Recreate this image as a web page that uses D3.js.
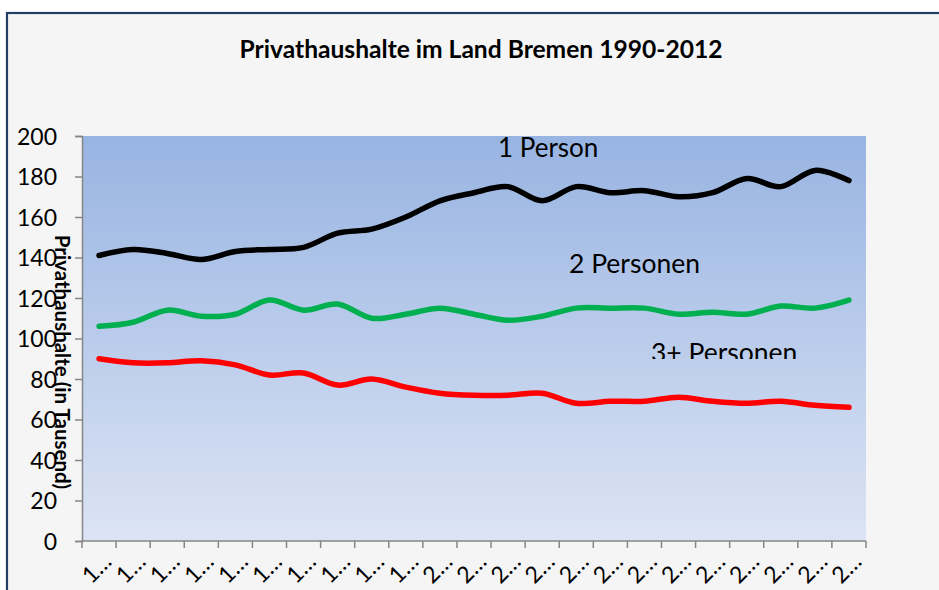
<!DOCTYPE html>
<html>
<head>
    <meta charset="utf-8">
    <script type="text/javascript" src="https://d3js.org/d3.v7.min.js"></script>
    <style>
        body { margin: 0; background: #ffffff; }

        svg text {
            font-family: Lato, "Noto Sans", sans-serif;
            fill: black;
        }

        .axis path,
        .axis line {
            stroke: #868686;
            stroke-width: 1.5;
        }

        .axis text {
            font-size: 23px;
        }

        .serie {
            fill: none;
            stroke-width: 5.5;
            stroke-linecap: round;
            stroke-linejoin: round;
        }
    </style>
    <title> Privathaushalte im Land Bremen </title>
</head>

<body>
    <svg width="939" height="590"></svg>
    <script>

        // Jahre 1990 - 2012
        var years = [1990, 1991, 1992, 1993, 1994, 1995, 1996, 1997, 1998, 1999, 2000, 2001,
                     2002, 2003, 2004, 2005, 2006, 2007, 2008, 2009, 2010, 2011, 2012];

        // Haushalte in Tausend
        var onePerson  = [141, 144, 142, 139, 143, 144, 145, 152, 154, 160, 168, 172,
                          175, 168, 175, 172, 173, 170, 172, 179, 175, 183, 178];
        var twoPersons = [106, 108, 114, 111, 112, 119, 114, 117, 110, 112, 115, 112,
                          109, 111, 115, 115, 115, 112, 113, 112, 116, 115, 119];
        var threePlus  = [90, 88, 88, 89, 87, 82, 83, 77, 80, 76, 73, 72,
                          72, 73, 68, 69, 69, 71, 69, 68, 69, 67, 66];

        var seriesNames = ["1 Person", "2 Personen", "3+ Personen"];
        var yTicks = [0, 20, 40, 60, 80, 100, 120, 140, 160, 180, 200];

        var svg = d3.select("svg");

        // Rahmen
        svg.append("rect")
            .attr("x", 7).attr("y", 13)
            .attr("width", 960).attr("height", 620)
            .attr("fill", "#f5f5f5")
            .attr("stroke", "#243f66")
            .attr("stroke-width", 2.2);

        // (nicht "top" nennen, das ist window.top)
        var pLeft = 82, pRight = 866, pTop = 136, pBottom = 541;

        var x = d3.scaleBand().domain(years).range([pLeft, pRight]);
        var y = d3.scaleLinear().domain([0, 200]).range([pBottom, pTop]);

        // Hintergrund Verlauf
        var defs = svg.append("defs");
        var grad = defs.append("linearGradient")
            .attr("id", "bg").attr("x1", 0).attr("y1", 0).attr("x2", 0).attr("y2", 1);
        grad.append("stop").attr("offset", "0%").attr("stop-color", "#98b4e2");
        grad.append("stop").attr("offset", "100%").attr("stop-color", "#dce4f4");

        defs.append("clipPath").attr("id", "cut3")
            .append("rect").attr("x", 600).attr("y", 320).attr("width", 260).attr("height", 39);

        svg.append("rect")
            .attr("x", pLeft).attr("y", pTop)
            .attr("width", pRight - pLeft).attr("height", pBottom - pTop)
            .attr("fill", "url(#bg)");

        svg.append("text")
            .attr("x", 481).attr("y", 58)
            .attr("text-anchor", "middle")
            .attr("font-size", "24.6px")
            .attr("font-weight", "bold")
            .text("Privathaushalte im Land Bremen 1990-2012");

        // y Achse
        svg.append("g")
            .attr("class", "axis")
            .attr("transform", "translate(" + pLeft + ",0)")
            .call(d3.axisLeft(y).tickValues(yTicks).tickSize(7).tickSizeOuter(7).tickPadding(18))
            .selectAll("text").attr("dy", "0.36em");

        // x Achse: Kategorien zwischen den Ticks
        var xAxis = svg.append("g")
            .attr("class", "axis")
            .attr("transform", "translate(0," + pBottom + ")");
        xAxis.append("path")
            .attr("d", "M" + (pLeft - 1) + ",0H" + pRight);
        xAxis.selectAll(".tk")
            .data(years.concat(["end"]))
            .enter().append("line")
            .attr("x1", function (d, i) { return pLeft + i * x.bandwidth(); })
            .attr("x2", function (d, i) { return pLeft + i * x.bandwidth(); })
            .attr("y1", 0).attr("y2", 7);
        xAxis.selectAll(".lbl")
            .data(years)
            .enter().append("text")
            .attr("font-size", "18px")
            .attr("text-anchor", "end")
            .attr("transform", function (d) {
                return "translate(" + (x(d) + x.bandwidth() / 2 + 14) + ",22) rotate(-45)";
            })
            .text(function (d) { return String(d).charAt(0) + "…"; });

        svg.append("text")
            .attr("transform", "translate(55,362) rotate(90)")
            .attr("text-anchor", "middle")
            .attr("font-size", "20.5px")
            .attr("font-weight", "bold")
            .text("Privathaushalte (in Tausend)");

        var line = d3.line()
            .x(function (d, i) { return x(years[i]) + x.bandwidth() / 2; })
            .y(function (d) { return y(d); })
            .curve(d3.curveCardinal.tension(0));

        svg.append("path").attr("class", "serie").attr("stroke", "#ff0000").attr("d", line(threePlus));
        svg.append("path").attr("class", "serie").attr("stroke", "#00b050").attr("d", line(twoPersons));
        svg.append("path").attr("class", "serie").attr("stroke", "#000000").attr("d", line(onePerson));

        // Beschriftungen der Linien
        svg.append("text").attr("x", 498).attr("y", 157).attr("font-size", "26px").text(seriesNames[0]);
        svg.append("text").attr("x", 569).attr("y", 273).attr("font-size", "26.5px").text(seriesNames[1]);
        svg.append("text").attr("x", 651).attr("y", 362).attr("font-size", "26.5px")
            .attr("clip-path", "url(#cut3)")
            .text(seriesNames[2]);

    </script>
</body>
</html>
